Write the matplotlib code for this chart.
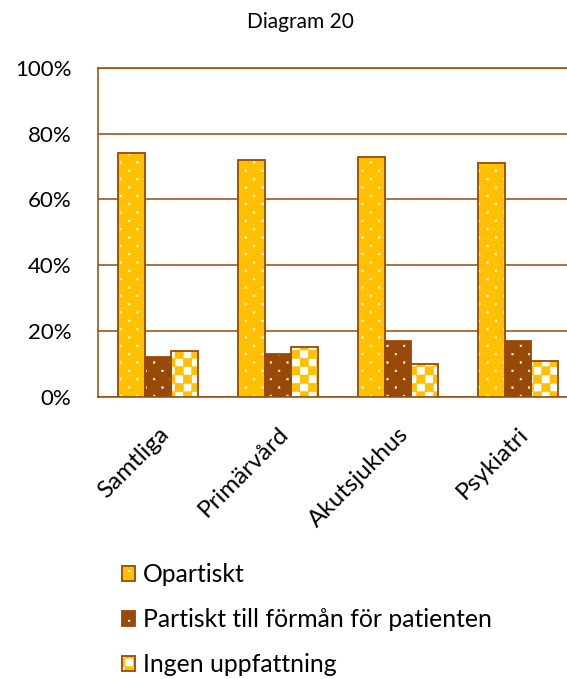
import matplotlib
matplotlib.use("Agg")
import matplotlib.pyplot as plt
import matplotlib.hatch as mhatch
from matplotlib.path import Path
from matplotlib.ticker import FuncFormatter
import numpy as np

kategorier = ["Samtliga", "Primärvård", "Akutsjukhus", "Psykiatri"]
opartiskt = [74, 72, 73, 71]
partiskt = [12, 13, 17, 17]
ingen = [14, 15, 10, 11]
serienamn = ["Opartiskt", "Partiskt till förmån för patienten", "Ingen uppfattning"]

ORANGE = "#FFC000"
BRUN = "#984807"


# Egna skrafferingar: glesa prickar ('.') och schackrutor ('o')
class Prickar(mhatch.HatchPatternBase):
    rader, kolumner, halv = 12, 6, 0.0075

    def __init__(self, hatch, density):
        self.num_vertices = self.rader * self.kolumner * 5 if "." in hatch else 0

    def set_vertices_and_codes(self, vertices, codes):
        h = self.halv
        ruta = np.array([[-h, -h], [h, -h], [h, h], [-h, h], [-h, -h]])
        kod = [Path.MOVETO, Path.LINETO, Path.LINETO, Path.LINETO, Path.CLOSEPOLY]
        v, c = [], []
        for r in range(self.rader):
            y = (r + 0.5) / self.rader
            for k in range(self.kolumner):
                x = (k + (0.25 if r % 2 == 0 else 0.75)) / self.kolumner
                v.append(ruta + [x, y])
                c.extend(kod)
        vertices[:] = np.concatenate(v)
        codes[:] = c


class Schack(mhatch.HatchPatternBase):
    n = 12

    def __init__(self, hatch, density):
        self.num_vertices = self.n * self.n // 2 * 5 if "o" in hatch else 0

    def set_vertices_and_codes(self, vertices, codes):
        s = 1.0 / self.n
        ruta = np.array([[0, 0], [s, 0], [s, s], [0, s], [0, 0]])
        kod = [Path.MOVETO, Path.LINETO, Path.LINETO, Path.LINETO, Path.CLOSEPOLY]
        v, c = [], []
        for i in range(self.n):
            for j in range(self.n):
                if (i + j) % 2 == 0:
                    v.append(ruta + [i * s, j * s])
                    c.extend(kod)
        vertices[:] = np.concatenate(v)
        codes[:] = c


mhatch._hatch_types = [Prickar, Schack]

plt.rcParams["font.family"] = ["Lato", "DejaVu Sans"]
plt.rcParams["hatch.linewidth"] = 0.4

fig = plt.figure(figsize=(5.67, 6.79), dpi=100)
ax = fig.add_axes([98 / 567, 1 - 396.7 / 679, 480 / 567, 329 / 679])

x = np.arange(len(kategorier))
w = 0.2222
serier = [
    (opartiskt, ORANGE, "white", "."),
    (partiskt, BRUN, "white", "."),
    (ingen, "white", ORANGE, "o"),
]

handtag = []
for i, (varden, fyll, monster, hatch) in enumerate(serier):
    pos = x + (i - 1) * w
    b1 = ax.bar(pos, varden, w, color=fyll, edgecolor=monster, linewidth=0,
                hatch=hatch, zorder=3)
    b2 = ax.bar(pos, varden, w, fill=False, edgecolor=BRUN, linewidth=1.3,
                zorder=4)
    handtag.append((b1, b2))

ax.set_xlim(-0.5, 3.5)
ax.set_ylim(0, 100)
ax.set_yticks(range(0, 101, 20))
ax.yaxis.set_major_formatter(FuncFormatter(lambda v, p: f"{v:.0f}%"))
ax.grid(axis="y", color=BRUN, linewidth=1.1, zorder=0)
ax.set_axisbelow(True)

for s in ["left", "bottom", "top"]:
    ax.spines[s].set_color(BRUN)
    ax.spines[s].set_linewidth(1.1)
ax.spines["right"].set_visible(False)

ax.tick_params(axis="y", length=0, pad=19, labelsize=16, colors="black")
ax.tick_params(axis="x", length=0, pad=19, labelsize=17.5)
ax.set_xticks(x)
ax.set_xticklabels(kategorier, rotation=45, ha="right", va="top",
                   rotation_mode="anchor")

fig.text(0.53, 1 - 22 / 679, "Diagram 20", ha="center", va="center", fontsize=15)

fig.legend(handtag, serienamn, loc="upper left",
           bbox_to_anchor=(112 / 567, 1 - 553 / 679), frameon=False,
           fontsize=17.8, handlelength=0.55, handleheight=0.55, handletextpad=0.3,
           labelspacing=0.9, borderaxespad=0)

fig.savefig("out.png", dpi=100)
